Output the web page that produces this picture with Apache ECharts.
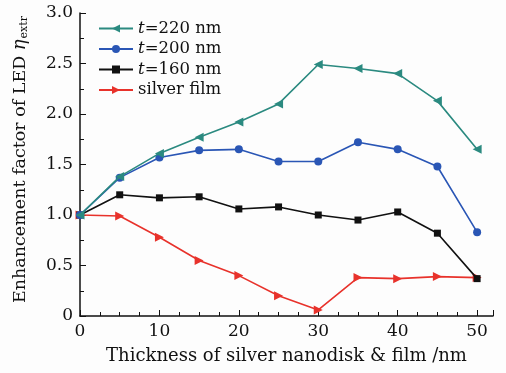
<!DOCTYPE html>
<html><head><meta charset="utf-8">
<script src="https://cdn.jsdelivr.net/npm/echarts@6/dist/echarts.min.js"></script>
<style>html,body{margin:0;padding:0;background:#fdfdfd}#c{width:506px;height:373px}</style>
</head><body><div id="c"></div>
<script>
const thickness = [0, 5, 10, 15, 20, 25, 30, 35, 40, 45, 50];
const t220 = [1.00, 1.38, 1.61, 1.77, 1.92, 2.10, 2.49, 2.45, 2.40, 2.13, 1.65];
const t200 = [1.00, 1.37, 1.57, 1.64, 1.65, 1.53, 1.53, 1.72, 1.65, 1.48, 0.83];
const t160 = [1.00, 1.20, 1.17, 1.18, 1.06, 1.08, 1.00, 0.95, 1.03, 0.82, 0.37];
const silver = [1.00, 0.99, 0.78, 0.55, 0.40, 0.20, 0.06, 0.38, 0.37, 0.39, 0.38];
const names = ['t=220 nm', 't=200 nm', 't=160 nm', 'silver film'];
const colors = ['#2b8a80', '#2a56b5', '#111111', '#e8322b'];
const F = "'DejaVu Serif', serif";
const chart = echarts.init(document.getElementById('c'));
function pts(arr){ return thickness.map((x,i)=>[x, arr[i]]); }
const symbols = [
  {symbol:'triangle', rotate:90, size:9},
  {symbol:'circle', rotate:0, size:8},
  {symbol:'rect', rotate:0, size:7},
  {symbol:'triangle', rotate:-90, size:9}
];
const datas = [t220, t200, t160, silver];
chart.setOption({
  backgroundColor:'#fdfdfd',
  animation:false,
  textStyle:{fontFamily:F},
  grid:{left:80, right:13, top:13, bottom:57},
  legend:{
    left:93, top:15, orient:'vertical', itemGap:3.5, itemWidth:34, itemHeight:10,
    data:names,
    formatter:function(n){ return n.charAt(0)==='t' ? '{i|t}{n|'+n.slice(1)+'}' : '{n|'+n+'}'; },
    textStyle:{fontFamily:F, fontSize:16.5, color:'#111',
      rich:{i:{fontFamily:F, fontStyle:'italic', fontSize:16.5, color:'#111'},
            n:{fontFamily:F, fontSize:16.5, color:'#111'}}}
  },
  xAxis:{
    type:'value', min:0, max:52, interval:10,
    name:'Thickness of silver nanodisk & film /nm', nameLocation:'middle', nameGap:31,
    nameTextStyle:{fontFamily:F, fontSize:18, color:'#111'},
    axisLine:{lineStyle:{color:'#111', width:1.5}},
    axisTick:{inside:true, length:6, lineStyle:{color:'#111'}},
    minorTick:{show:true, splitNumber:4, length:4, lineStyle:{color:'#111'}},
    axisLabel:{fontFamily:F, fontSize:17, color:'#111', margin:7,
      formatter:function(v){ return v%10===0 ? String(v) : ''; }},
    splitLine:{show:false}
  },
  yAxis:{
    type:'value', min:0, max:3, interval:0.5,
    name:'Enhancement factor of LED {e|η}{s|extr}', nameLocation:'middle', nameGap:50,
    nameTextStyle:{fontFamily:F, fontSize:17.5, color:'#111', padding:[0,0,0,10],
      rich:{e:{fontFamily:F, fontStyle:'italic', fontSize:18, color:'#111'},
            s:{fontFamily:F, fontSize:11, color:'#111', padding:[9,0,0,1]}}},
    axisLine:{show:true, lineStyle:{color:'#111', width:1.5}},
    axisTick:{inside:true, length:6, lineStyle:{color:'#111'}},
    minorTick:{show:true, splitNumber:2, length:4, lineStyle:{color:'#111'}},
    axisLabel:{fontFamily:F, fontSize:17, color:'#111', margin:7,
      formatter:function(v){ return v===0 ? '0' : v.toFixed(1); }},
    splitLine:{show:false}
  },
  series: names.map((n,k)=>({
    name:n, type:'line', data:pts(datas[k]),
    symbol:symbols[k].symbol, symbolRotate:symbols[k].rotate, symbolSize:symbols[k].size,
    showSymbol:true,
    lineStyle:{color:colors[k], width:1.6},
    itemStyle:{color:colors[k]},
    z: 10-k
  }))
});
</script></body></html>
